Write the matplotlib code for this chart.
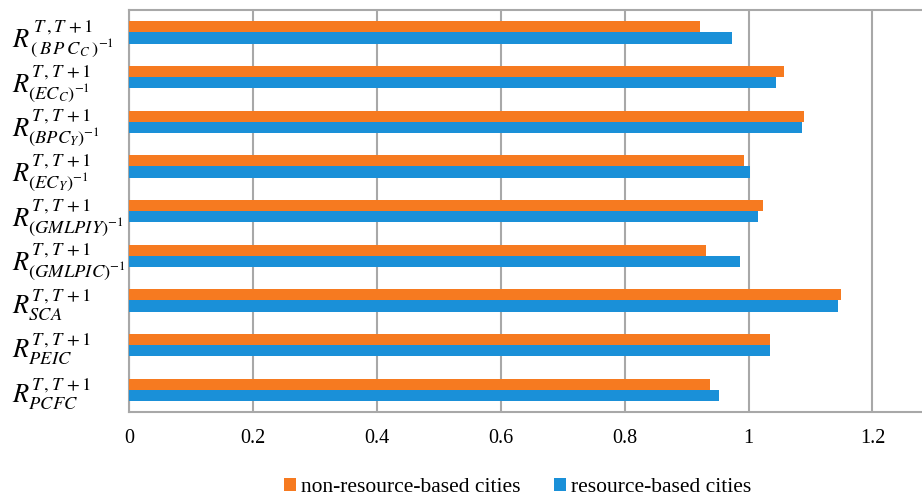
import matplotlib
matplotlib.use("Agg")
import matplotlib.pyplot as plt
import numpy as np

plt.rcParams['font.family'] = ['Liberation Serif', 'DejaVu Serif']
plt.rcParams['mathtext.fontset'] = 'stix'

# categories from top to bottom
labels = [
    r'$R^{\,T\,,T\,+1}_{\,(\,B\,P\,C_{\,C}\,)^{-1}}$',
    r'$R^{T\,,T\,+1}_{(EC_C)^{-1}}$',
    r'$R^{T\,,T\,+1}_{(BPC_Y)^{-1}}$',
    r'$R^{T\,,T\,+1}_{(EC_Y)^{-1}}$',
    r'$R^{T\,,T\,+1}_{(GMLPIY)^{-1}}$',
    r'$R^{T\,,T\,+1}_{(GMLPIC)^{-1}}$',
    r'$R^{T\,,T\,+1}_{SCA}$',
    r'$R^{T\,,T\,+1}_{PEIC}$',
    r'$R^{T\,,T\,+1}_{PCFC}$',
]
non_resource = [0.922, 1.058, 1.090, 0.992, 1.023, 0.932, 1.150, 1.035, 0.938]
resource = [0.974, 1.044, 1.087, 1.003, 1.016, 0.987, 1.145, 1.035, 0.953]
xticks = [0, 0.2, 0.4, 0.6, 0.8, 1, 1.2]
xtick_labels = ['0', '0.2', '0.4', '0.6', '0.8', '1', '1.2']

orange = '#F67A20'
blue = '#1A90D8'
grid = '#A8A8A8'

fig = plt.figure(figsize=(9.22, 5.0), dpi=100)
ax = fig.add_axes([0.14, 0.176, 0.86, 0.804])

n = len(labels)
y = np.arange(n)[::-1]
h = 0.25
ax.barh(y + h / 2, non_resource, height=h, color=orange, label='non-resource-based cities', zorder=3)
ax.barh(y - h / 2, resource, height=h, color=blue, label='resource-based cities', zorder=3)

ax.set_ylim(-0.5, n - 0.5)
ax.set_xlim(0, 1.28)
ax.set_yticks(y)
ax.set_yticklabels(labels, fontsize=19, ha='left')
ax.set_xticks(xticks)
ax.set_xticklabels(xtick_labels, fontsize=14.5)
ax.tick_params(axis='x', length=0, pad=12)
ax.tick_params(axis='y', length=0, pad=84)

ax.grid(axis='x', color=grid, linewidth=1.5, zorder=0)
for side in ['top', 'bottom', 'left']:
    ax.spines[side].set_color(grid)
    ax.spines[side].set_linewidth(1.5)
ax.spines['right'].set_visible(False)

ax.legend(loc='upper center', bbox_to_anchor=(0.49, -0.115), ncol=2, frameon=False,
          fontsize=15.5, handlelength=0.55, handleheight=0.55, handletextpad=0.2, columnspacing=1.6)

fig.savefig('out.png', dpi=100)
